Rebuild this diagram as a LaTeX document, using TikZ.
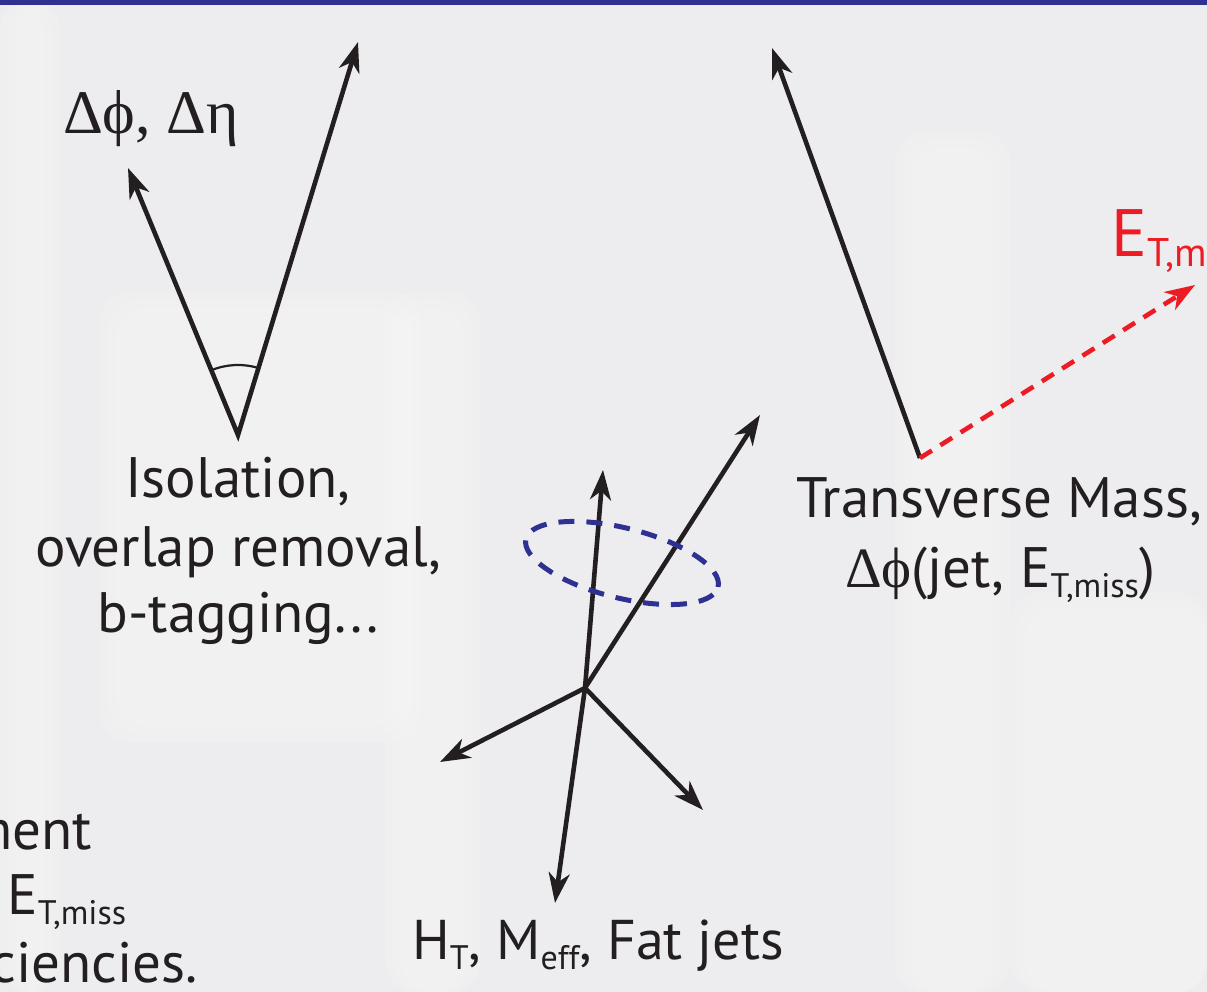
\documentclass[tikz,border=0pt]{standalone}
\usepackage{fontspec}
\setmainfont{PT Sans}
\newfontfamily\greekfont{Liberation Serif}
\usetikzlibrary{arrows.meta}
\definecolor{ink}{HTML}{231F20}
\definecolor{barblue}{HTML}{2E3192}
\definecolor{mred}{HTML}{ED1C24}
\definecolor{bg}{HTML}{EDEDEF}
\newcommand\lowsub[1]{\raisebox{-10pt}{\fontsize{34}{34}\selectfont #1}}
\newcommand\bigsub[1]{\raisebox{-10pt}{\fontsize{40}{40}\selectfont #1}}
\begin{document}
\begin{tikzpicture}[x=1pt,y=1pt,
  tip/.style={-{Stealth[length=30pt,width=21pt,inset=9pt]}},
  vec/.style={draw=ink, line width=4.6pt, line join=miter, tip},
  lbl/.style={text=ink, font=\fontsize{57}{68}\selectfont, inner sep=0pt, anchor=base},
  glow/.style={fill=white, opacity=0.12, rounded corners=30pt},
]
\useasboundingbox (0,0) rectangle (1207,992);
\clip (0,0) rectangle (1207,992);
% background
\fill[bg] (0,0) rectangle (1207,992);
\foreach \d in {0,8,16}{
  \fill[glow] (0+\d,0) rectangle (60-\d,992);
  \fill[glow] (100+\d,250+\d) rectangle (420-\d,700-\d);
  \fill[glow] (385+\d,0) rectangle (480-\d,700-\d);
  \fill[glow] (895+\d,0) rectangle (1010-\d,860-\d);
  \fill[glow] (1010+\d,0) rectangle (1207,400-\d);
}
\fill[barblue] (0,987) rectangle (1207,992);

% left V (isolation)
\coordinate (v) at (238,557);
\coordinate (vl) at (128,824);
\coordinate (vr) at (358,950);
\draw[vec, {Stealth[length=30pt,width=21pt,inset=9pt]}-{Stealth[length=30pt,width=21pt,inset=9pt]}] (vl) -- (v) -- (vr);
\draw[ink, line width=2.2pt] ([shift={(73:70)}]v) arc[start angle=73, end angle=112, radius=70];
\node[text=ink, font=\greekfont\fontsize{62}{66}\selectfont, inner sep=0pt, anchor=base] (dphi) at (151,858) {Δϕ, Δη};
\node[lbl] (iso1) at (238,494) {Isolation,};
\node[lbl] (iso2) at (238,425) {overlap removal,};
\node[lbl] (iso3) at (238,359) {b-tagging...};

% right (transverse mass)
\coordinate (w) at (920,534);
\coordinate (wt) at (772,944);
\coordinate (wr) at (1195,707);
\draw[vec] (w) -- (wt);
\draw[mred, line width=4.6pt, dash pattern=on 14pt off 10pt, tip] (w) -- (wr);
\node[text=mred, font=\fontsize{67}{70}\selectfont, inner sep=0pt, anchor=base west] (met) at (1111,735) {E\bigsub{T,miss}};
\node[lbl] (tm1) at (999,474) {Transverse Mass,};
\node[lbl] (tm2) at (1000,404) {{\greekfont Δϕ}(jet, E\lowsub{T,miss})};

% centre (jets)
\coordinate (c) at (585,304);
\coordinate (j1) at (603,522);
\coordinate (j2) at (760,577);
\coordinate (j3) at (440,230);
\coordinate (j4) at (703,182);
\coordinate (j5) at (555,89);
\foreach \j in {j1,j2,j3,j4,j5} \draw[vec] (c) -- (\j);
\draw[barblue, line width=5pt, dash pattern=on 16pt off 12pt, rotate around={-14:(622,429)}] (622,429) ellipse[x radius=99, y radius=35];
\node[lbl, font=\fontsize{56}{68}\selectfont] (ht) at (598,32) {H\lowsub{T}, M\lowsub{eff}, Fat jets};

% left column fragments
\node[lbl, anchor=base east] (bl1) at (92,142) {ment};
\node[lbl, anchor=base west] (bl2) at (7,77) {E\lowsub{T,miss}};
\node[lbl, anchor=base east] (bl3) at (198,9) {ciencies.};
\end{tikzpicture}
\end{document}
